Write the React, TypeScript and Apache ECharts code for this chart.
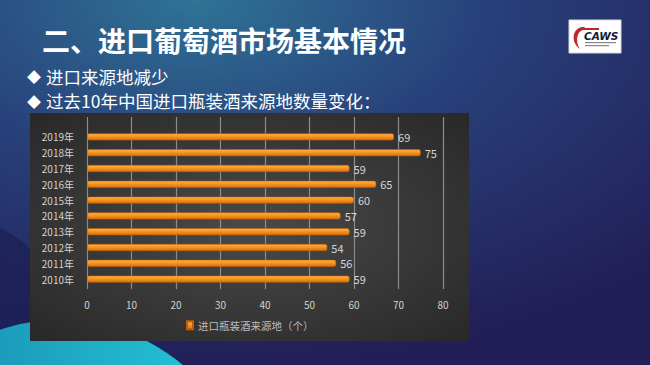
import React, { useEffect, useRef } from "react";
import * as echarts from "echarts";

const categories = ["2010年", "2011年", "2012年", "2013年", "2014年", "2015年", "2016年", "2017年", "2018年", "2019年"];
const values = [59, 56, 54, 59, 57, 60, 65, 59, 75, 69];
const seriesName = "进口瓶装酒来源地（个）";
const axisMin = 0;
const axisMax = 80;
const axisInterval = 10;
const titleText = "二、进口葡萄酒市场基本情况";
const bullets = ["进口来源地减少", "过去10年中国进口瓶装酒来源地数量变化："];

const FONT = '"Noto Sans CJK SC", "Noto Sans", sans-serif';

echarts.graphic.registerShape(
  "cawsSwoosh",
  echarts.graphic.extendPath(
    "M 14 1 C 8 1, 3 5, 2 12 C 1 19, 4 25, 9 29 C 6 24, 5 18, 6 13 C 7 8, 10 5, 14 4 Z",
    {}
  )
);

export default function App() {
  const ref = useRef<HTMLDivElement>(null);
  useEffect(() => {
    if (!ref.current) return;
    const chart = echarts.init(ref.current, null, { renderer: "svg" });
    const bulletStyle = (text: string) => ({
      text,
      fill: "#ffffff",
      font: `17.5px ${FONT}`,
      lineHeight: 18,
      verticalAlign: "middle",
    });
    const option: any = {
      animation: false,
      graphic: [
        {
          type: "rect",
          z: -100,
          silent: true,
          shape: { x: 0, y: 0, width: 650, height: 365 },
          style: {
            fill: new echarts.graphic.RadialGradient(0.3, 0.0, 1.0, [
              { offset: 0, color: "#2f7396" },
              { offset: 0.45, color: "#28407a" },
              { offset: 1, color: "#221f58" },
            ]),
          },
        },
        {
          type: "circle",
          z: -99,
          silent: true,
          shape: { cx: -40, cy: 320, r: 100 },
          style: { fill: "#1d2156", opacity: 0.8 },
        },
        {
          type: "circle",
          z: -98,
          silent: true,
          shape: { cx: 60, cy: 510, r: 190 },
          style: {
            fill: new echarts.graphic.LinearGradient(0, 0, 1, 0, [
              { offset: 0, color: "#1682ab" },
              { offset: 1, color: "#26ccdc" },
            ]),
          },
        },
        {
          type: "circle",
          z: -97,
          silent: true,
          shape: { cx: 170, cy: 330, r: 20 },
          style: { fill: "#232260" },
        },
        {
          type: "rect",
          z: -90,
          silent: true,
          shape: { x: 30, y: 113, width: 439, height: 228 },
          style: {
            fill: new echarts.graphic.RadialGradient(0.5, 0.5, 0.75, [
              { offset: 0, color: "#4a4a4a" },
              { offset: 1, color: "#262626" },
            ]),
          },
        },
        {
          type: "text",
          z: 10,
          x: 42,
          y: 40,
          style: {
            text: titleText,
            fill: "#ffffff",
            font: `bold 28px ${FONT}`,
            verticalAlign: "middle",
          },
        },
        {
          type: "text",
          z: 10,
          x: 27,
          y: 76,
          style: { text: "◆", fill: "#ffffff", font: `14px ${FONT}`, lineHeight: 15, verticalAlign: "middle" },
        },
        { type: "text", z: 10, x: 46, y: 76, style: bulletStyle(bullets[0]) },
        {
          type: "text",
          z: 10,
          x: 27,
          y: 100.5,
          style: { text: "◆", fill: "#ffffff", font: `14px ${FONT}`, lineHeight: 15, verticalAlign: "middle" },
        },
        { type: "text", z: 10, x: 46, y: 100.5, style: bulletStyle(bullets[1]) },
        {
          type: "rect",
          z: 10,
          shape: { x: 569, y: 20, width: 52, height: 33 },
          style: { fill: "#ffffff", stroke: "#d8d8d8", lineWidth: 1 },
        },
        {
          type: "cawsSwoosh",
          z: 11,
          x: 572,
          y: 26,
          scaleX: 0.9,
          scaleY: 0.8,
          style: { fill: "#c0262c" },
        },
        {
          type: "rect",
          z: 11,
          shape: { x: 583, y: 28, width: 16, height: 2 },
          style: { fill: "#c0262c" },
        },
        {
          type: "text",
          z: 11,
          x: 584,
          y: 36,
          style: {
            text: "CAWS",
            fill: "#141a40",
            font: `bold italic 10.5px "DejaVu Sans", sans-serif`,
            verticalAlign: "middle",
          },
        },
        {
          type: "rect",
          z: 11,
          shape: { x: 585, y: 42, width: 31, height: 1.2 },
          style: { fill: "#888" },
        },
        {
          type: "rect",
          z: 11,
          shape: { x: 585, y: 45, width: 24, height: 1.2 },
          style: { fill: "#888" },
        },
      ],
      grid: [
        { left: 87, right: 207, top: 129, height: 158 },
        { left: 87, right: 207, top: 117, height: 172 },
      ],
      xAxis: [
        {
          gridIndex: 0,
          type: "value",
          min: axisMin,
          max: axisMax,
          interval: axisInterval,
          show: false,
        },
        {
          gridIndex: 1,
          type: "value",
          min: axisMin,
          max: axisMax,
          interval: axisInterval,
          axisLine: { show: false },
          axisTick: { show: false },
          axisLabel: { color: "#d2d2d2", fontSize: 10, margin: 10, fontFamily: FONT },
          splitLine: { show: true, lineStyle: { color: "#8c8c8c", width: 1.2 } },
        },
      ],
      yAxis: [
        {
          gridIndex: 0,
          type: "category",
          data: categories,
          axisLine: { show: false },
          axisTick: { show: false },
          axisLabel: { color: "#d2d2d2", fontSize: 10, margin: 13, fontFamily: FONT },
        },
        { gridIndex: 1, type: "value", min: 0, max: 1, show: false },
      ],
      legend: {
        data: [seriesName],
        left: 186,
        top: 320,
        icon: "rect",
        itemWidth: 6,
        itemHeight: 8,
        itemGap: 5,
        padding: 0,
        textStyle: { color: "#bdbdbd", fontSize: 10.5, fontFamily: FONT },
      },
      series: [
        {
          name: seriesName,
          type: "bar",
          xAxisIndex: 0,
          yAxisIndex: 0,
          data: values,
          barWidth: 7,
          itemStyle: {
            color: new echarts.graphic.LinearGradient(0, 0, 0, 1, [
              { offset: 0, color: "#ffb347" },
              { offset: 0.5, color: "#f7911c" },
              { offset: 1, color: "#d6700c" },
            ]),
            borderColor: "#b8600c",
            borderWidth: 0.6,
            borderRadius: 2,
          },
          label: {
            show: true,
            position: "right",
            distance: 4,
            color: "#d6d6d6",
            fontSize: 11,
            fontFamily: FONT,
          },
        },
      ],
    };
    chart.setOption(option);
    return () => chart.dispose();
  }, []);
  return (
    <div
      ref={ref}
      style={{ position: "absolute", left: 0, top: 0, width: 650, height: 365 }}
    />
  );
}
